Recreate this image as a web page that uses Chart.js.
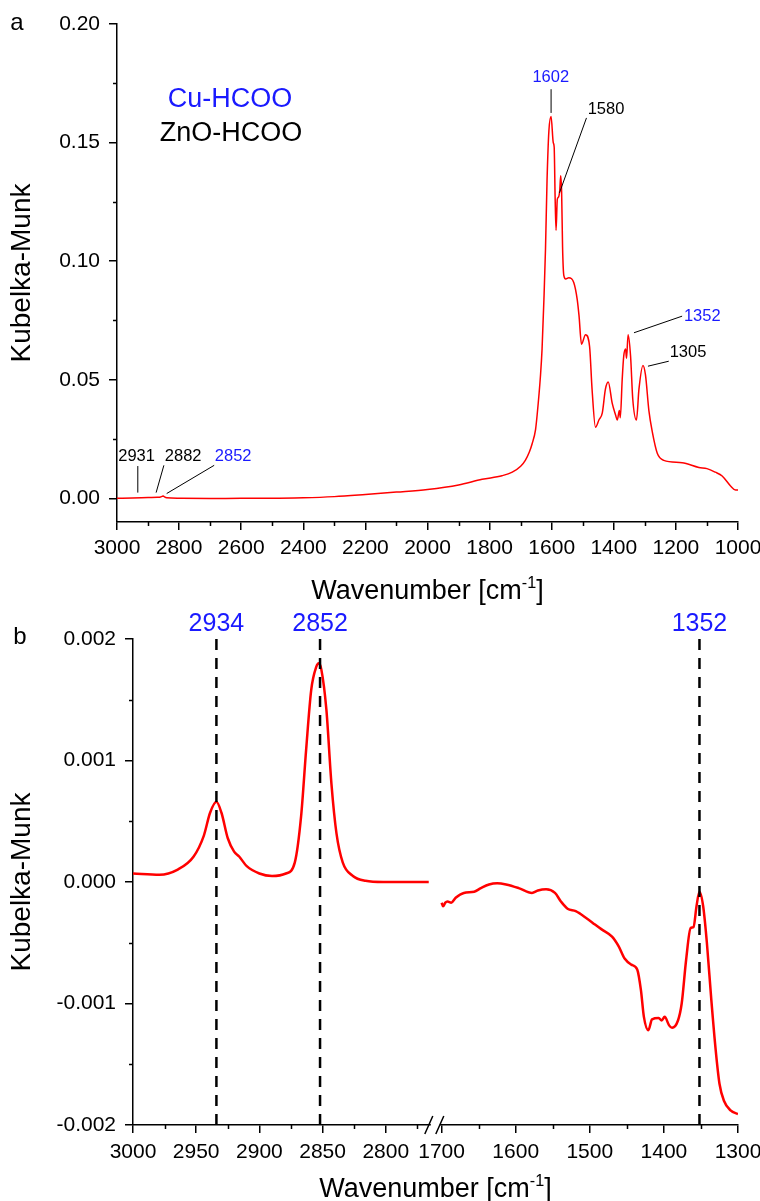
<!DOCTYPE html>
<html><head><meta charset="utf-8">
<script src="https://cdn.jsdelivr.net/npm/chart.js@4.4.1/dist/chart.umd.min.js"></script>
<style>
html,body{margin:0;padding:0;background:#fff;}
#wrap{position:relative;width:760px;height:1201px;overflow:hidden;background:#fff;}
canvas{position:absolute;left:0;}
#c1{top:0;}
#c2{top:600px;}
</style></head><body>
<div id="wrap">
<canvas id="c1" width="760" height="610"></canvas>
<canvas id="c2" width="760" height="601"></canvas>
</div>
<script>
// ---------------- DATA ----------------
// Panel a: full spectrum
const topWavenumber = [3000,2950,2900,2870,2860,2855,2851,2847,2840,2800,2700,2600,2500,2400,2300,2200,2100,2000,1900,1824,1760,1727,1700,1685,1672,1663,1652,1647,1636,1631,1625,1620,1615,1609,1602,1595,1592,1589,1586,1582,1578,1574,1571,1568,1565,1561,1555,1545,1529,1518,1512,1504,1491,1478,1470,1459,1448,1437,1427,1418,1405,1394,1389,1382,1379,1373,1368,1362,1359,1354,1346,1339,1327,1319,1306,1298,1287,1276,1260,1239,1180,1126,1100,1073,1051,1024,1008,1000];
const topKM = [0.0000,0.0001,0.0003,0.0004,0.0005,0.0008,0.0010,0.0006,0.0002,0.0000,-0.0001,0.0000,0.0000,0.0002,0.0007,0.0016,0.0026,0.0037,0.0056,0.0080,0.0095,0.0110,0.0135,0.0160,0.0195,0.0230,0.0290,0.0350,0.0520,0.0630,0.0840,0.1050,0.1340,0.1550,0.1610,0.1500,0.1480,0.1270,0.1130,0.1260,0.1270,0.1300,0.1360,0.1290,0.1060,0.0940,0.0925,0.0930,0.0910,0.0840,0.0770,0.0650,0.0690,0.0640,0.0460,0.0300,0.0330,0.0360,0.0460,0.0490,0.0400,0.0350,0.0330,0.0370,0.0340,0.0500,0.0600,0.0630,0.0590,0.0690,0.0600,0.0420,0.0330,0.0460,0.0560,0.0520,0.0370,0.0280,0.0190,0.0160,0.0150,0.0130,0.0125,0.0110,0.0094,0.0052,0.0035,0.0035];
const topXTicks = [3000,2800,2600,2400,2200,2000,1800,1600,1400,1200,1000];
const topXMinor = [2900,2700,2500,2300,2100,1900,1700,1500,1300,1100];
const topYTicks = [0,0.05,0.10,0.15,0.20];
const topYMinor = [0.025,0.075,0.125,0.175];

// Panel b: zoomed, broken x axis
const botLeftWavenumber = [3000,2979,2965,2952,2944,2939,2934,2930,2925,2920,2916,2910,2900,2890,2879,2872,2867,2863,2859,2855,2853,2851,2847,2843,2839,2834,2826,2816,2802,2766];
const botLeftKM = [0.00007,0.00006,0.00010,0.00021,0.00038,0.00057,0.00066,0.00057,0.00036,0.00025,0.00021,0.00013,0.00007,0.00005,0.00007,0.00016,0.00054,0.00109,0.00158,0.00177,0.00180,0.00175,0.00142,0.00081,0.00040,0.00016,0.00005,0.00001,0.00000,0.00000];
const botRightWavenumber = [1700,1698,1695,1692,1687,1681,1670,1656,1647,1636,1625,1613,1596,1578,1570,1559,1547,1539,1530,1519,1504,1493,1484,1470,1461,1453,1444,1436,1431,1427,1421,1416,1407,1403,1399,1393,1389,1381,1376,1370,1364,1360,1356,1352,1347,1342,1336,1330,1325,1319,1310,1300];
const botRightKM = [-0.00017,-0.00020,-0.00017,-0.00016,-0.00017,-0.00013,-0.00009,-0.00008,-0.00005,-0.00002,-0.00001,-0.00002,-0.00005,-0.00009,-0.00007,-0.00006,-0.00009,-0.00016,-0.00022,-0.00024,-0.00030,-0.00035,-0.00039,-0.00045,-0.00053,-0.00063,-0.00068,-0.00072,-0.00089,-0.00111,-0.00122,-0.00113,-0.00112,-0.00114,-0.00111,-0.00118,-0.00120,-0.00114,-0.00100,-0.00064,-0.00038,-0.00037,-0.00020,-0.00008,-0.00020,-0.00050,-0.00097,-0.00139,-0.00166,-0.00180,-0.00188,-0.00191];
const botXTicks = [3000,2950,2900,2850,2800,1700,1600,1500,1400,1300];
const botXMinor = [2975,2925,2875,2825,2775,1650,1550,1450,1350];
const botYTicks = [-0.002,-0.001,0,0.001,0.002];
const botYMinor = [-0.0015,-0.0005,0.0005,0.0015];
const markedPeaks = [2934,2852,1352];

// ---------------- STYLE ----------------
const FONT = "'Liberation Sans', Arial, Helvetica, sans-serif";
Chart.defaults.font.family = FONT;
Chart.defaults.color = '#000';
const RED = '#ff0000', BLUE = '#1a1aff';

// annotations for panel a (positions in data units)
const topNotes = [
  {text:'Cu-HCOO', color:BLUE, size:27, at:[2636,0.168]},
  {text:'ZnO-HCOO', color:'#000', size:27, at:[2633,0.154]},
  {text:'1602', color:BLUE, size:16.5, at:[1603,0.1775], line:[[1602,0.1725],[1602,0.1625]]},
  {text:'1580', color:'#000', size:16.5, at:[1425,0.1640], line:[[1488,0.1604],[1575,0.1288]]},
  {text:'1352', color:BLUE, size:16.5, at:[1115,0.0768], line:[[1180,0.0768],[1335,0.0698]]},
  {text:'1305', color:'#000', size:16.5, at:[1161,0.0616], line:[[1223,0.0578],[1290,0.0557]]},
  {text:'2931', color:'#000', size:16.5, at:[2937,0.0178], line:[[2933,0.0136],[2933,0.0024]]},
  {text:'2882', color:'#000', size:16.5, at:[2787,0.0178], line:[[2849,0.0139],[2874,0.0024]]},
  {text:'2852', color:BLUE, size:16.5, at:[2626,0.0178], line:[[2687,0.0139],[2840,0.0020]]}
];

// broken axis geometry (share of axis length)
const BREAK = {leftFrom:3000, leftTo:2765, rightFrom:1700, rightTo:1300, leftShare:297/605, gapShare:11.6/605};

class BrokenLinearScale extends Chart.LinearScale {
  getPixelForValue(value) {
    if (value === null || value === undefined || isNaN(value)) return NaN;
    const b = BREAK;
    let dec;
    if (value > (b.leftTo + b.rightFrom) / 2) {
      dec = (b.leftFrom - value) / (b.leftFrom - b.leftTo) * b.leftShare;
    } else {
      const rs = 1 - b.leftShare - b.gapShare;
      dec = b.leftShare + b.gapShare + (b.rightFrom - value) / (b.rightFrom - b.rightTo) * rs;
    }
    return this.getPixelForDecimal(dec);
  }
  getValueForPixel(pixel) {
    const b = BREAK;
    const dec = this.getDecimalForPixel(pixel);
    if (dec <= b.leftShare) return b.leftFrom - dec / b.leftShare * (b.leftFrom - b.leftTo);
    const rs = 1 - b.leftShare - b.gapShare;
    return b.rightFrom - (dec - b.leftShare - b.gapShare) / rs * (b.rightFrom - b.rightTo);
  }
}
BrokenLinearScale.id = 'brokenLinear';
Chart.register(BrokenLinearScale);

function toPoints(xs, ys) { return xs.map((x, i) => ({x: x, y: ys[i]})); }

const minorTicks = {
  id: 'minorTicks',
  afterDraw(chart, args, opts) {
    const ctx = chart.ctx, xs = chart.scales.x, ys = chart.scales.y, ca = chart.chartArea;
    ctx.save();
    ctx.strokeStyle = '#000'; ctx.lineWidth = 1.5;
    ctx.beginPath();
    opts.x.forEach(v => { const p = Math.round(xs.getPixelForValue(v)) + 0.5; ctx.moveTo(p, ca.bottom); ctx.lineTo(p, ca.bottom + opts.len); });
    opts.y.forEach(v => { const p = Math.round(ys.getPixelForValue(v)) + 0.5; ctx.moveTo(ca.left, p); ctx.lineTo(ca.left - opts.len, p); });
    ctx.stroke();
    ctx.restore();
  }
};

function drawXTitle(ctx, cx, cy, size) {
  const a = 'Wavenumber [cm', s = '-1', c = ']';
  const mainF = size + 'px ' + FONT, supF = (size * 0.6) + 'px ' + FONT;
  ctx.font = mainF; const wa = ctx.measureText(a).width, wc = ctx.measureText(c).width;
  ctx.font = supF; const ws = ctx.measureText(s).width;
  let x = cx - (wa + ws + wc) / 2;
  ctx.textAlign = 'left'; ctx.textBaseline = 'middle'; ctx.fillStyle = '#000';
  ctx.font = mainF; ctx.fillText(a, x, cy); x += wa;
  ctx.font = supF; ctx.fillText(s, x, cy - size * 0.33); x += ws;
  ctx.font = mainF; ctx.fillText(c, x, cy);
}

const topDecor = {
  id: 'topDecor',
  afterDraw(chart) {
    const ctx = chart.ctx, xs = chart.scales.x, ys = chart.scales.y;
    ctx.save();
    topNotes.forEach(n => {
      if (n.line) {
        ctx.strokeStyle = '#000'; ctx.lineWidth = 1;
        ctx.beginPath();
        ctx.moveTo(xs.getPixelForValue(n.line[0][0]), ys.getPixelForValue(n.line[0][1]));
        ctx.lineTo(xs.getPixelForValue(n.line[1][0]), ys.getPixelForValue(n.line[1][1]));
        ctx.stroke();
      }
      ctx.font = n.size + 'px ' + FONT; ctx.fillStyle = n.color;
      ctx.textAlign = 'center'; ctx.textBaseline = 'middle';
      ctx.fillText(n.text, xs.getPixelForValue(n.at[0]), ys.getPixelForValue(n.at[1]));
    });
    ctx.font = '24px ' + FONT; ctx.fillStyle = '#000'; ctx.textAlign = 'center'; ctx.textBaseline = 'middle';
    ctx.fillText('a', 17, 23);
    drawXTitle(ctx, (xs.left + xs.right) / 2, 592, 27);
    ctx.restore();
  }
};

const botDecor = {
  id: 'botDecor',
  afterDatasetsDraw(chart) {
    const ctx = chart.ctx, xs = chart.scales.x, ca = chart.chartArea;
    ctx.save();
    ctx.strokeStyle = '#000'; ctx.lineWidth = 2.5; ctx.setLineDash([11, 8]);
    markedPeaks.forEach(w => {
      const p = xs.getPixelForValue(w);
      ctx.beginPath(); ctx.moveTo(p, ca.top); ctx.lineTo(p, ca.bottom); ctx.stroke();
    });
    ctx.restore();
  },
  afterDraw(chart) {
    const ctx = chart.ctx, xs = chart.scales.x, ca = chart.chartArea;
    ctx.save();
    ctx.font = '25px ' + FONT; ctx.fillStyle = BLUE; ctx.textAlign = 'center'; ctx.textBaseline = 'middle';
    markedPeaks.forEach(w => ctx.fillText(String(w), xs.getPixelForValue(w), ca.top - 15));
    // axis break marks
    const bx = xs.getPixelForValue(BREAK.leftTo) + (xs.getPixelForValue(BREAK.rightFrom) - xs.getPixelForValue(BREAK.leftTo)) / 2;
    ctx.fillStyle = '#fff';
    ctx.fillRect(bx - 5, ca.bottom - 2, 9, 4);
    ctx.strokeStyle = '#000'; ctx.lineWidth = 1.5;
    ctx.beginPath();
    ctx.moveTo(bx - 11, ca.bottom + 9); ctx.lineTo(bx - 3, ca.bottom - 9);
    ctx.moveTo(bx + 0, ca.bottom + 9); ctx.lineTo(bx + 8, ca.bottom - 9);
    ctx.stroke();
    ctx.font = '24px ' + FONT; ctx.fillStyle = '#000';
    ctx.fillText('b', 20, 37);
    drawXTitle(ctx, (xs.left + xs.right) / 2, 590, 27);
    ctx.restore();
  }
};

function axisCommon() {
  return {
    grid: {display: true, drawOnChartArea: false, drawTicks: true, tickLength: 8, color: '#000', lineWidth: 1.5},
    border: {display: true, color: '#000', width: 1.5}
  };
}

// ---------------- PANEL A ----------------
new Chart(document.getElementById('c1'), {
  type: 'line',
  data: {datasets: [{data: toPoints(topWavenumber, topKM), borderColor: RED, borderWidth: 1.5, pointRadius: 0, fill: false, cubicInterpolationMode: 'monotone'}]},
  options: {
    responsive: false, animation: false, events: [], devicePixelRatio: 1,
    layout: {padding: {top: 24, right: 22, left: 0, bottom: 0}},
    plugins: {legend: {display: false}, tooltip: {enabled: false},
      minorTicks: {x: topXMinor, y: topYMinor, len: 4}},
    scales: {
      x: Object.assign(axisCommon(), {
        type: 'linear', min: 1000, max: 3000, reverse: true,
        afterBuildTicks: s => { s.ticks = topXTicks.map(v => ({value: v})); },
        afterFit: s => { s.height = 88; s.paddingLeft = 0; s.paddingRight = 0; },
        ticks: {font: {size: 21}, padding: 6, autoSkip: false, maxRotation: 0, color: '#000', callback: v => String(v)}
      }),
      y: Object.assign(axisCommon(), {
        type: 'linear', min: -0.01, max: 0.20,
        afterBuildTicks: s => { s.ticks = topYTicks.map(v => ({value: v})); },
        afterFit: s => { s.width = 117; s.paddingTop = 0; s.paddingBottom = 0; },
        ticks: {font: {size: 21}, padding: 9, autoSkip: false, color: '#000', callback: v => Number(v).toFixed(2)},
        title: {display: true, text: 'Kubelka-Munk', font: {size: 28}, color: '#000', padding: {top: 5, bottom: 0}}
      })
    }
  },
  plugins: [minorTicks, topDecor]
});

// ---------------- PANEL B ----------------
new Chart(document.getElementById('c2'), {
  type: 'line',
  data: {datasets: [
    {data: toPoints(botLeftWavenumber, botLeftKM), borderColor: RED, borderWidth: 2.5, pointRadius: 0, fill: false, cubicInterpolationMode: 'monotone'},
    {data: toPoints(botRightWavenumber, botRightKM), borderColor: RED, borderWidth: 2.5, pointRadius: 0, fill: false, cubicInterpolationMode: 'monotone'}
  ]},
  options: {
    responsive: false, animation: false, events: [], devicePixelRatio: 1,
    layout: {padding: {top: 39, right: 22, left: 0, bottom: 0}},
    plugins: {legend: {display: false}, tooltip: {enabled: false},
      minorTicks: {x: botXMinor, y: botYMinor, len: 4}},
    scales: {
      x: Object.assign(axisCommon(), {
        type: 'brokenLinear', min: 1300, max: 3000,
        afterBuildTicks: s => { s.ticks = botXTicks.map(v => ({value: v})); },
        afterFit: s => { s.height = 76; s.paddingLeft = 0; s.paddingRight = 0; },
        ticks: {font: {size: 21}, padding: 7, autoSkip: false, maxRotation: 0, color: '#000', callback: v => String(v)}
      }),
      y: Object.assign(axisCommon(), {
        type: 'linear', min: -0.002, max: 0.002,
        afterBuildTicks: s => { s.ticks = botYTicks.map(v => ({value: v})); },
        afterFit: s => { s.width = 133; s.paddingTop = 0; s.paddingBottom = 0; },
        ticks: {font: {size: 21}, padding: 9, autoSkip: false, color: '#000', callback: v => Number(v).toFixed(3)},
        title: {display: true, text: 'Kubelka-Munk', font: {size: 28}, color: '#000', padding: {top: 5, bottom: 0}}
      })
    }
  },
  plugins: [minorTicks, botDecor]
});
</script>
</body></html>
